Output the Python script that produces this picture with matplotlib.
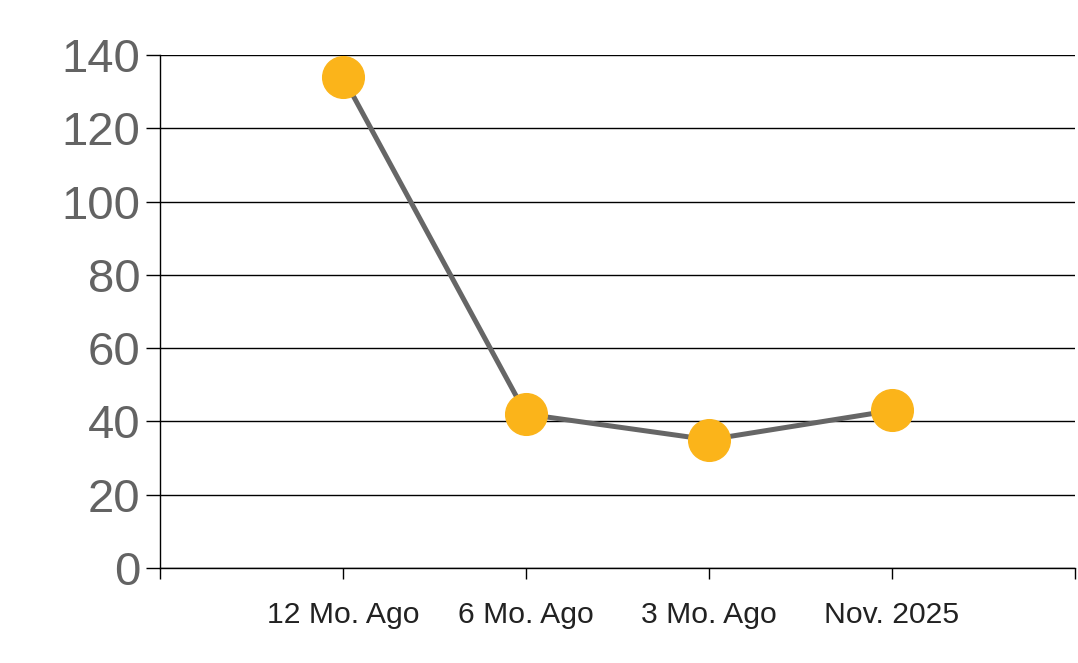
import matplotlib
matplotlib.use("Agg")
import matplotlib.pyplot as plt

# Données
categories = ["12 Mo. Ago", "6 Mo. Ago", "3 Mo. Ago", "Nov. 2025"]
values = [134, 42, 35, 43]
y_ticks = [0, 20, 40, 60, 80, 100, 120, 140]

LINE = "#666666"
MARKER = "#FBB41A"
TEXT_GRAY = "#636363"
TEXT_DARK = "#222222"

plt.rcParams["font.family"] = ["Liberation Sans", "DejaVu Sans"]

fig = plt.figure(figsize=(10.78, 6.63), dpi=100)
ax = fig.add_axes([160 / 1078, 1 - 568 / 663, (1075 - 160) / 1078, (568 - 55) / 663])

x = list(range(1, len(categories) + 1))
ax.plot(x, values, color=LINE, linewidth=3.6, zorder=3,
        marker="o", markersize=30, markerfacecolor=MARKER, markeredgecolor=MARKER)

ax.set_xlim(0, len(categories) + 1)
ax.set_ylim(0, 140)

ax.set_yticks(y_ticks)
ax.set_yticklabels([str(v) for v in y_ticks], fontsize=34, color=TEXT_GRAY)
ax.tick_params(axis="y", length=10, width=1, color="black", pad=4)

# étiquettes sous chaque point, plus graduations aux deux extrémités
ax.set_xticks(x)
ax.set_xticklabels(categories, fontsize=21.7, color=TEXT_DARK)
ax.set_xticks([0, len(categories) + 1], minor=True)
ax.tick_params(axis="x", which="both", length=8, width=1, color="black")
ax.tick_params(axis="x", which="major", pad=16)

ax.grid(axis="y", color="black", linewidth=1, zorder=1)
ax.set_axisbelow(True)

for side in ["top", "right"]:
    ax.spines[side].set_visible(False)
ax.spines["left"].set_color("black")
ax.spines["bottom"].set_color("black")
ax.spines["left"].set_linewidth(1)
ax.spines["bottom"].set_linewidth(1)

fig.savefig("out.png", dpi=100)
